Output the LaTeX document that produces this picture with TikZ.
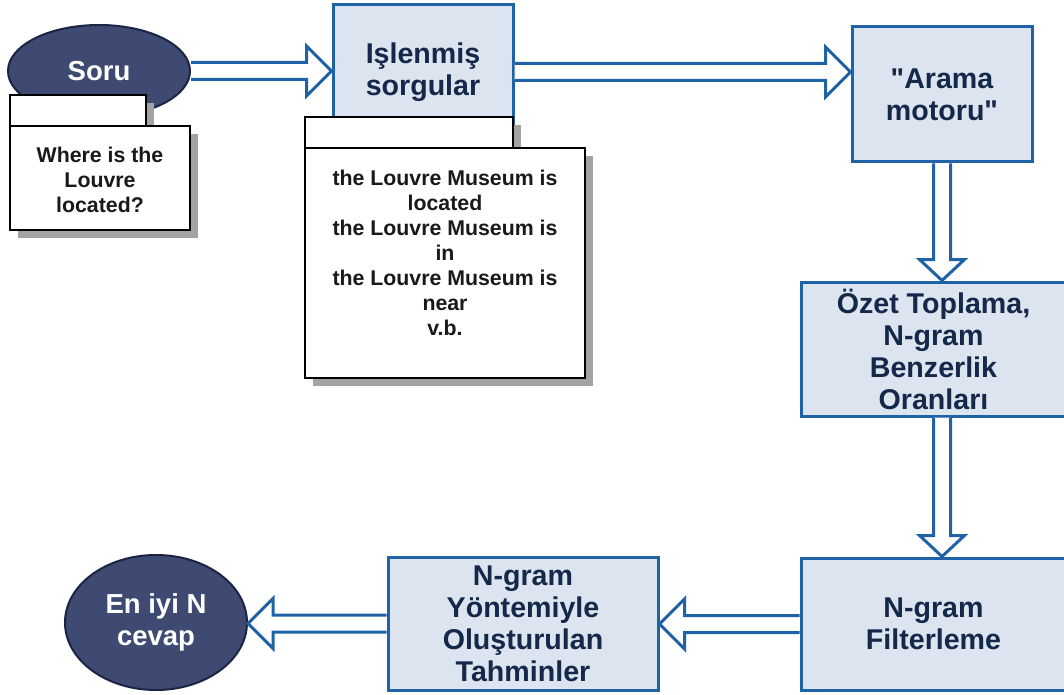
\documentclass[tikz,border=0pt]{standalone}
\usepackage{fontspec}
\setmainfont{Liberation Sans}
% same face without TeX ligature mapping, so that " stays a straight quote
\newfontfamily\plainfont{Liberation Sans}
\usetikzlibrary{shapes.geometric,shadows,calc}

\definecolor{boxfill}{HTML}{DCE4EF}
\definecolor{boxline}{HTML}{1F62A6}
\definecolor{boxtext}{HTML}{14284A}
\definecolor{ovalfill}{HTML}{3E4A72}
\definecolor{ovalline}{HTML}{1B2444}
\definecolor{shade}{HTML}{A3A3A3}

\tikzset{
  stepbox/.style={rectangle, draw=boxline, fill=boxfill, line width=3pt,
    text=boxtext, font=\plainfont\bfseries\fontsize{28.6}{32}\selectfont,
    align=center, inner sep=0pt},
  oval/.style={ellipse, draw=ovalline, fill=ovalfill, line width=2pt,
    text=white, font=\bfseries\fontsize{27.5}{32}\selectfont,
    align=center, inner sep=0pt},
  notebox/.style={rectangle, draw=black, fill=white, line width=2.5pt,
    inner sep=0pt,
    drop shadow={shadow xshift=8pt, shadow yshift=-8pt, fill=shade, opacity=1}},
  notetext/.style={font=\bfseries\fontsize{21.3}{25}\selectfont,
    text=black!90, align=center, inner sep=0pt},
  hollow/.style={draw=boxline, fill=white, line width=3pt, line join=miter},
}

% horizontal block arrow from #1 to #2 (kept at the height of #1)
\newcommand\hflow[2]{%
  \filldraw[hollow] let \p1=(#1), \p2=(#2), \n1={ifthenelse(\x2>\x1,1,-1)} in
    (\x1,{\y1+8.5pt}) -- ({\x2-\n1*25pt},{\y1+8.5pt}) -- ({\x2-\n1*25pt},{\y1+25pt})
    -- (\x2,\y1) -- ({\x2-\n1*25pt},{\y1-25pt}) -- ({\x2-\n1*25pt},{\y1-8.5pt})
    -- (\x1,{\y1-8.5pt});}

% vertical block arrow from #1 to #2 (kept at the x of #1)
\newcommand\vflow[2]{%
  \filldraw[hollow] let \p1=(#1), \p2=(#2), \n1={ifthenelse(\y2>\y1,1,-1)} in
    ({\x1+8.5pt},\y1) -- ({\x1+8.5pt},{\y2-\n1*21pt}) -- ({\x1+22.5pt},{\y2-\n1*21pt})
    -- (\x1,\y2) -- ({\x1-22.5pt},{\y2-\n1*21pt}) -- ({\x1-8.5pt},{\y2-\n1*21pt})
    -- ({\x1-8.5pt},\y1);}

\begin{document}
\begin{tikzpicture}[x=1pt,y=-1pt]
  \useasboundingbox (0,0) rectangle (1064,695);
  \clip (0,0) rectangle (1064,695);

  % process boxes
  \node[stepbox, minimum width=180pt, minimum height=134pt] (islenmis) at (423,72) {Işlenmiş\\sorgular};
  \node[stepbox, minimum width=180pt, minimum height=135pt] (arama) at (942,94.5) {"Arama\\motoru"};
  \node[stepbox, minimum width=265pt, minimum height=134pt] (ozet) at (933.5,349) {Özet Toplama,\\N-gram\\Benzerlik\\Oranları};
  \node[stepbox, minimum width=265pt, minimum height=132pt] (filtre) at (933.5,624) {N-gram\\Filterleme};
  \node[stepbox, minimum width=270pt, minimum height=133pt] (tahmin) at (523,623.5) {N-gram\\Yöntemiyle\\Oluşturulan\\Tahminler};

  % start and end ovals
  \node[oval, minimum width=182pt, minimum height=92pt] (soru) at (99,71) {Soru};
  \node[oval, minimum width=182pt, minimum height=135pt] (cevap) at (156,622.5) {En iyi N\\cevap};

  % note attached to the question
  \node[notebox, minimum width=136pt, minimum height=31pt] (note1tab) at (78,110.5) {};
  \node[notebox, minimum width=180pt, minimum height=104pt] (note1) at (100,178) {};
  \node[notetext] (note1txt) at (100,180) {Where is the\\Louvre\\located?};

  % note attached to the processed queries
  \node[notebox, minimum width=208pt, minimum height=31pt] (note2tab) at (409,132.5) {};
  \node[notebox, minimum width=280pt, minimum height=230pt] (note2) at (445,263) {};
  \node[notetext] (note2txt) at (445,253) {the Louvre Museum is\\located\\the Louvre Museum is\\in\\the Louvre Museum is\\near\\v.b.};

  % flow
  \hflow{soru.east}{islenmis.west}
  \hflow{islenmis.east}{arama.west}
  \vflow{arama.south}{ozet.north -| arama.south}
  \vflow{ozet.south -| arama.south}{filtre.north -| arama.south}
  \hflow{filtre.west}{tahmin.east}
  \hflow{tahmin.west}{cevap.east}
\end{tikzpicture}
\end{document}
